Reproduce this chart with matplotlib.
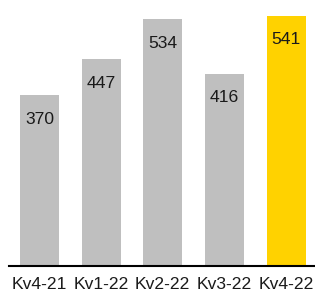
import matplotlib
matplotlib.use("Agg")
from matplotlib import pyplot as plt

quarters = ["Kv4-21", "Kv1-22", "Kv2-22", "Kv3-22", "Kv4-22"]
values = [370, 447, 534, 416, 541]
colors = ["#BFBFBF", "#BFBFBF", "#BFBFBF", "#BFBFBF", "#FFD200"]

plt.rcParams["font.family"] = ["Liberation Sans", "DejaVu Sans"]

fig = plt.figure(figsize=(3.15, 2.96), dpi=100)
ax = fig.add_axes([0.0286, 0.1014, 0.9714, 0.8986])

x = list(range(len(values)))
ax.bar(x, values, width=0.633, color=colors, zorder=2)

for xi, v in zip(x, values):
    # label sits ~24px below the bar top
    ax.annotate(str(v), (xi, v), xytext=(0, -24), textcoords="offset pixels",
                ha="center", va="center", fontsize=12.6, color="#1a1a1a")

ax.set_xlim(-0.495, 4.47)
ax.set_ylim(0, 575.6)
ax.set_xticks(x, quarters)
ax.tick_params(axis="x", length=0, pad=8, labelsize=12.6, labelcolor="#1a1a1a")
ax.set_yticks([])
for side in ["top", "right", "left"]:
    ax.spines[side].set_visible(False)
ax.spines["bottom"].set_linewidth(1.5)
ax.spines["bottom"].set_color("black")

fig.savefig("out.png", dpi=100)
